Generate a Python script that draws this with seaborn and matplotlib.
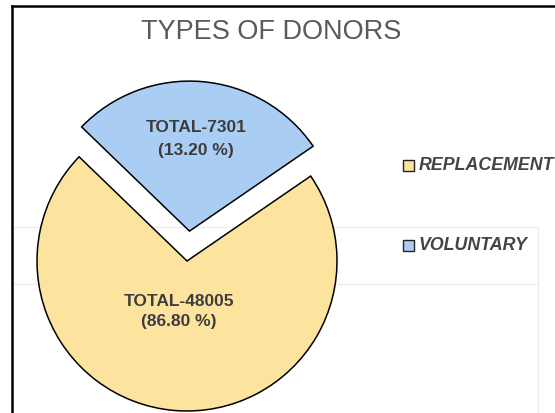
import matplotlib
matplotlib.use("Agg")
import matplotlib.pyplot as plt
from matplotlib.patches import Rectangle
import seaborn as sns

# ---- data ----
categories = ["REPLACEMENT", "VOLUNTARY"]
totals = [48005, 7301]
percent_labels = ["86.80 %", "13.20 %"]
# slice shares as drawn in the reference picture (angle)
drawn_share = [71.8, 28.2]
colors = ["#FDE49E", "#AACEF3"]
title = "TYPES OF DONORS"

sns.set_theme(style="white")
plt.rcParams["font.family"] = ["Liberation Sans", "DejaVu Sans"]

W, H = 555, 414
fig = plt.figure(figsize=(W / 100, H / 100), dpi=100)
ax = fig.add_axes([0, 0, 1, 1])

def Y(y):
    return H - y

# faint background lines
ax.plot([12, 538], [Y(228), Y(228)], color="#ececec", lw=0.8, zorder=0)
ax.plot([12, 538], [Y(285), Y(285)], color="#ececec", lw=0.8, zorder=0)
ax.plot([538, 538], [Y(228), Y(414)], color="#ececec", lw=0.8, zorder=0)

# frame (left and top)
ax.plot([12, 12], [Y(7), Y(414)], color="black", lw=1.8, solid_capstyle="projecting", zorder=5)
ax.plot([12, W], [Y(7), Y(7)], color="black", lw=1.8, solid_capstyle="projecting", zorder=5)

wedges, _ = ax.pie(
    drawn_share,
    colors=colors,
    startangle=136,
    counterclock=True,
    explode=[0, 30],
    center=(187, Y(262)),
    radius=150,
    wedgeprops=dict(edgecolor="black", linewidth=1.1),
    frame=True,
)
ax.set_xlim(0, W)
ax.set_ylim(0, H)
ax.set_aspect("equal")
ax.axis("off")

# slice labels
label_pos = [(179, 302, 322), (196, 128, 150)]
for (x, y1, y2), tot, pct in zip(label_pos, totals, percent_labels):
    ax.text(x, Y(y1), f"TOTAL-{tot}", ha="center", va="center",
            fontsize=12.5, fontweight="bold", color="#3d3d3d")
    ax.text(x, Y(y2), f"({pct})", ha="center", va="center",
            fontsize=12.5, fontweight="bold", color="#3d3d3d")

# title
ax.text(271, Y(32), title, ha="center", va="center", fontsize=19.5, color="#5a5a5a")

# legend
leg_y = [166, 246]
for cat, col, y in zip(categories, colors, leg_y):
    ax.add_patch(Rectangle((403, Y(y) - 5.5), 11, 11, facecolor=col,
                           edgecolor="#222222", lw=1.0, zorder=6))
    ax.text(419, Y(y), cat, ha="left", va="center", fontsize=12.8,
            fontweight="bold", fontstyle="italic", color="#444444")

fig.savefig("out.png", dpi=100)
